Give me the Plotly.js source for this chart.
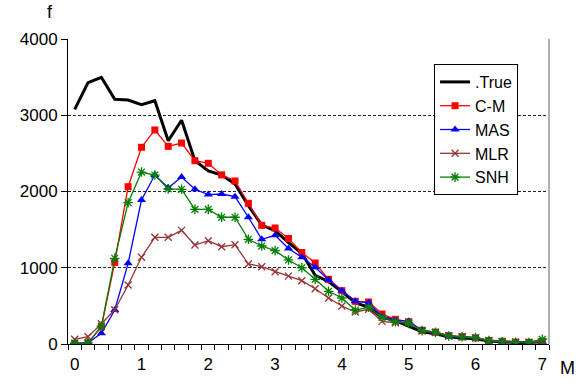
<!DOCTYPE html>
<html>
<head>
<meta charset="utf-8">
<script src="https://cdn.plot.ly/plotly-3.0.1.min.js"></script>
<style>html,body{margin:0;padding:0;background:#fff;}#chart{width:588px;height:384px;}</style>
</head>
<body>
<div id="chart"></div>
<script>
// M values (0 to 7, step 0.2)
var mValues = [0,0.2,0.4,0.6,0.8,1,1.2,1.4,1.6,1.8,2,2.2,2.4,2.6,2.8,3,3.2,3.4,3.6,3.8,4,4.2,4.4,4.6,4.8,5,5.2,5.4,5.6,5.8,6,6.2,6.4,6.6,6.8,7];

var trueF = [3078,3427,3497,3209,3200,3139,3191,2666,2935,2404,2270,2216,2100,1815,1560,1486,1330,1190,900,820,686,542,481,350,306,236,160,135,95,80,70,40,30,20,20,30];
var cmF   = [10,15,225,1071,2063,2580,2807,2592,2636,2404,2370,2218,2138,1845,1556,1521,1384,1200,1062,848,699,560,551,393,323,290,180,155,110,95,80,45,35,25,22,35];
var masF  = [10,15,140,446,1058,1888,2216,2048,2190,2029,1960,1967,1932,1662,1373,1426,1252,1137,1006,839,699,560,542,358,315,297,180,155,105,90,80,44,32,22,20,30];
var mlrF  = [62,95,265,450,774,1137,1399,1399,1490,1298,1355,1276,1302,1049,1014,948,890,830,725,603,498,420,455,297,279,288,170,150,105,90,80,44,30,22,20,30];
var snhF  = [10,15,235,1124,1853,2255,2216,2035,2029,1765,1765,1662,1662,1373,1285,1224,1102,1000,848,691,603,446,481,350,293,271,175,155,105,95,85,44,30,22,20,62];

var seriesNames = ['.True','C-M','MAS','MLR','SNH'];
var xTickVals = [0,1,2,3,4,5,6,7];
var yTickVals = [0,1000,2000,3000,4000];

var FONT = '"Liberation Sans", Arial, sans-serif';

var traces = [
  {x: mValues, y: trueF, name: seriesNames[0], mode: 'lines',
   line: {color: '#000000', width: 3}},
  {x: mValues, y: cmF, name: seriesNames[1], mode: 'lines+markers',
   line: {color: '#ff0000', width: 1.3},
   marker: {symbol: 'square', size: 7, color: '#ff0000'}},
  {x: mValues, y: masF, name: seriesNames[2], mode: 'lines+markers',
   line: {color: '#0000ff', width: 1.3},
   marker: {symbol: 'triangle-up', size: 8, color: '#0000ff'}},
  {x: mValues, y: mlrF, name: seriesNames[3], mode: 'lines+markers',
   line: {color: '#993333', width: 1.3},
   marker: {symbol: 'x-thin-open', size: 7, color: '#993333', line: {color: '#993333', width: 1.3}}},
  {x: mValues, y: snhF, name: seriesNames[4], mode: 'lines+markers',
   line: {color: '#008000', width: 1.3},
   marker: {symbol: 'asterisk-open', size: 8, color: '#008000', line: {color: '#008000', width: 1.3}}}
];

var layout = {
  width: 588, height: 384,
  margin: {l: 68, r: 39, t: 39, b: 40, pad: 0},
  paper_bgcolor: '#ffffff', plot_bgcolor: '#ffffff',
  font: {family: FONT, size: 17, color: '#000'},
  showlegend: true,
  legend: {x: 0.761, y: 0.918, xanchor: 'left', yanchor: 'top',
    bgcolor: '#ffffff', bordercolor: '#000000', borderwidth: 1,
    font: {family: FONT, size: 16, color: '#000'},
    itemwidth: 30, tracegroupgap: 0},
  xaxis: {
    range: [-0.1, 7.1], tickmode: 'array', tickvals: xTickVals,
    ticks: 'outside', ticklen: 5, tickcolor: 'rgba(0,0,0,0)',
    showgrid: false, zeroline: false,
    showline: true, linecolor: '#000', linewidth: 1,
    tickfont: {family: FONT, size: 17, color: '#000'},
    minor: {tick0: -0.1, dtick: 0.2, ticks: 'outside', ticklen: 5, tickcolor: '#000', tickwidth: 1, showgrid: false}
  },
  yaxis: {
    range: [0, 4000], tickmode: 'array', tickvals: yTickVals,
    ticks: 'outside', ticklen: 6, tickcolor: '#000',
    showgrid: true, gridcolor: '#222', griddash: '3px,2px', gridwidth: 1,
    zeroline: false, showline: true, linecolor: '#000', linewidth: 1,
    tickfont: {family: FONT, size: 17, color: '#000'}
  },
  shapes: [
    {type: 'line', xref: 'paper', yref: 'paper', x0: 1, x1: 1, y0: 0, y1: 1,
     line: {color: '#b0b0b0', width: 2}}
  ],
  annotations: [
    {text: 'f', xref: 'paper', yref: 'paper', x: -0.0374, y: 1.088, xanchor: 'center', yanchor: 'middle',
     showarrow: false, font: {family: FONT, size: 18, color: '#000'}},
    {text: 'M', xref: 'paper', yref: 'paper', x: 1.0395, y: -0.0787, xanchor: 'center', yanchor: 'middle',
     showarrow: false, font: {family: FONT, size: 18, color: '#000'}}
  ]
};

Plotly.newPlot('chart', traces, layout, {staticPlot: true, displayModeBar: false});
</script>
</body>
</html>
